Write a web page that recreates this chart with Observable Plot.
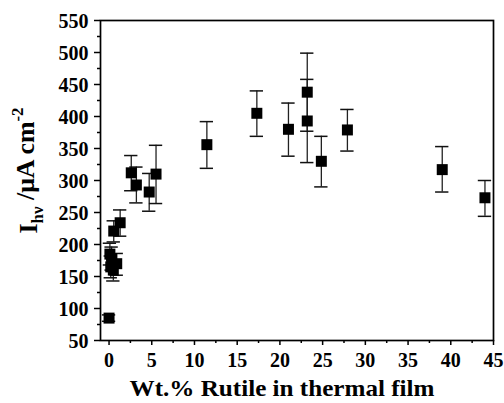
<!DOCTYPE html>
<html>
<head>
<meta charset="utf-8">
<script src="https://cdn.jsdelivr.net/npm/d3@7"></script>
<script src="https://cdn.jsdelivr.net/npm/@observablehq/plot@0.6"></script>
<style>
  html, body { margin: 0; padding: 0; background: #fff; }
  svg { display: block; }
</style>
</head>
<body>
<div id="chart"></div>
<script>
// Data
const rutile  = [0, 0.1, 0.2, 0.3, 0.5, 0.9, 0.55, 1.3, 2.6, 3.2, 4.7, 5.5, 11.45, 17.3, 21.0, 23.2, 23.2, 24.85, 27.9, 39.0, 44.0];
const current = [85, 185, 165, 178, 160, 170, 221, 234, 312, 293, 282, 310, 356, 405, 380, 438, 393, 330, 379, 317, 273];
const upper   = [90, 202, 182, 196, 176, 186, 237, 254, 339, 321, 311, 355, 392, 440, 421, 499, 458, 369, 411, 353, 300];
const lower   = [80, 168, 148, 160, 143, 152, 204, 213, 284, 265, 252, 264, 319, 369, 338, 377, 328, 290, 346, 282, 244];
const xTicks = [0, 5, 10, 15, 20, 25, 30, 35, 40, 45];
const xMinor = [2.5, 7.5, 12.5, 17.5, 22.5, 27.5, 32.5, 37.5, 42.5];
const yTicks = [50, 100, 150, 200, 250, 300, 350, 400, 450, 500, 550];
const yMinor = [75, 125, 175, 225, 275, 325, 375, 425, 475, 525];
const xLabel = "Wt.% Rutile in thermal film";
const capHalf = 0.78; // half-width of error-bar caps, in x units

const data = rutile.map((x, i) => ({x, y: current[i], lo: lower[i], hi: upper[i]}));

const font = "'Liberation Serif', 'Times New Roman', serif";

const plot = Plot.plot({
  width: 504,
  height: 403,
  marginLeft: 100,
  marginRight: 11,
  marginTop: 20,
  marginBottom: 63,
  style: {fontFamily: font, fontWeight: "bold", fontSize: "22px", color: "#000", background: "#fff", overflow: "visible"},
  x: {domain: [-1, 45]},
  y: {domain: [50, 550]},
  marks: [
    Plot.axisX({ticks: xTicks, tickSize: 5, tickPadding: 6, tickFormat: d => String(d), label: null, fontSize: 22, fontWeight: "bold", strokeWidth: 1.5}),
    Plot.axisX({ticks: xMinor, tickSize: 3, tickFormat: () => "", label: null, strokeWidth: 1.5}),
    Plot.axisY({ticks: yTicks, tickSize: 6, tickPadding: 6, tickFormat: d => String(d), label: null, fontSize: 22, fontWeight: "bold", strokeWidth: 1.5}),
    Plot.axisY({ticks: yMinor, tickSize: 3, tickFormat: () => "", label: null, strokeWidth: 1.5}),
    Plot.frame({stroke: "#000", strokeWidth: 1.7}),
    Plot.ruleX(data, {x: "x", y1: "lo", y2: "hi", stroke: "#222", strokeWidth: 1.3}),
    Plot.ruleY(data, {y: "hi", x1: d => d.x - capHalf, x2: d => d.x + capHalf, stroke: "#111", strokeWidth: 1.5}),
    Plot.ruleY(data, {y: "lo", x1: d => d.x - capHalf, x2: d => d.x + capHalf, stroke: "#111", strokeWidth: 1.5}),
    Plot.dot(data, {x: "x", y: "y", symbol: "square", r: 6.2, fill: "#000", stroke: "none"}),
    Plot.text([xLabel], {frameAnchor: "bottom", dy: 48, dx: -15, lineAnchor: "middle", textAnchor: "middle", fontSize: 24, fontWeight: "bold", fill: "#000", className: "xlab"}),
    Plot.text(["ylabel"], {frameAnchor: "left", dx: -72, dy: -10, rotate: -90, textAnchor: "middle", lineAnchor: "middle", fontSize: 26, fontWeight: "bold", fill: "#000", className: "ylab"})
  ]
});

document.getElementById("chart").appendChild(plot);

// Condense tick labels horizontally like the reference's narrow digits
d3.select(plot).selectAll('g[aria-label$="tick label"] text').each(function() {
  const s = this.textContent;
  if (s.length) {
    this.setAttribute("textLength", s.length * 10);
    this.setAttribute("lengthAdjust", "spacingAndGlyphs");
  }
});

const xl = d3.select(plot).select("g.xlab text");
xl.attr("textLength", 305).attr("lengthAdjust", "spacingAndGlyphs");

// Rich y label with subscript and superscript
const t = d3.select(plot).select("g.ylab text");
t.text(null);
t.append("tspan").text("I");
t.append("tspan").attr("font-size", "17px").attr("dy", "0.35em").text("hν");
t.append("tspan").attr("dy", "-0.35em").text(" /μA cm");
t.append("tspan").attr("font-size", "17px").attr("dy", "-0.6em").text("-2");
t.attr("textLength", 126).attr("lengthAdjust", "spacingAndGlyphs");
</script>
</body>
</html>
